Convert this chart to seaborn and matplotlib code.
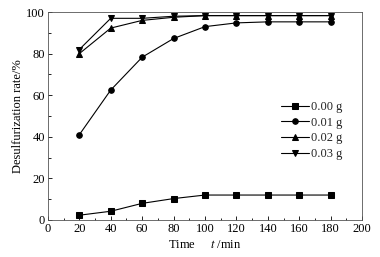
import matplotlib
matplotlib.use("Agg")
import matplotlib.pyplot as plt
import seaborn as sns
import pandas as pd
from matplotlib.ticker import MultipleLocator

time_min = [20, 40, 60, 80, 100, 120, 140, 160, 180]
s000 = [2.3, 4.2, 8.0, 10.3, 12.0, 12.0, 12.0, 12.0, 12.0]
s001 = [41.0, 62.5, 78.3, 87.3, 93.0, 94.8, 95.3, 95.3, 95.3]
s002 = [80.0, 92.3, 96.0, 97.5, 98.3, 98.3, 98.3, 98.3, 98.3]
s003 = [82.0, 97.0, 97.0, 98.0, 98.3, 98.3, 98.3, 98.3, 98.3]
labels = ["0.00 g", "0.01 g", "0.02 g", "0.03 g"]
markers = ["s", "o", "^", "v"]

rows = []
for lab, vals in zip(labels, [s000, s001, s002, s003]):
    for t, v in zip(time_min, vals):
        rows.append({"t": t, "rate": v, "dose": lab})
df = pd.DataFrame(rows)

sns.set_theme(style="ticks")
plt.rcParams["font.family"] = ["Liberation Serif", "DejaVu Serif"]
plt.rcParams["mathtext.fontset"] = "stix"

fig = plt.figure(figsize=(3.8, 2.57), dpi=100)
ax = fig.add_axes([0.126, 0.144, 0.827, 0.809])

sns.lineplot(data=df, x="t", y="rate", hue="dose", style="dose",
             palette=["black"] * 4, markers=markers, dashes=False,
             linewidth=0.8, markersize=4, markeredgecolor="black", ax=ax)

ax.set_xlim(0, 200)
ax.set_ylim(0, 100)
ax.xaxis.set_major_locator(MultipleLocator(20))
ax.xaxis.set_minor_locator(MultipleLocator(10))
ax.yaxis.set_major_locator(MultipleLocator(20))
ax.yaxis.set_minor_locator(MultipleLocator(10))
ax.tick_params(which="both", direction="in", labelsize=9, width=0.6, color="black", labelcolor="black", pad=2)
ax.tick_params(which="major", length=3)
ax.tick_params(which="minor", length=1.8)
for sp in ax.spines.values():
    sp.set_visible(True)
    sp.set_linewidth(0.6)
    sp.set_color("#555555")

ax.set_xlabel("Time     $\\it{t}$ /min", fontsize=9, labelpad=3, color="black")
ax.set_ylabel("Desulfurization rate/%", fontsize=9, labelpad=2, color="black")

leg = ax.legend(loc="upper left", bbox_to_anchor=(0.715, 0.615), frameon=False,
                fontsize=9, handlelength=2.2, labelspacing=0.3, handletextpad=0.2,
                borderpad=0.2)

fig.savefig("out.png", dpi=100)
